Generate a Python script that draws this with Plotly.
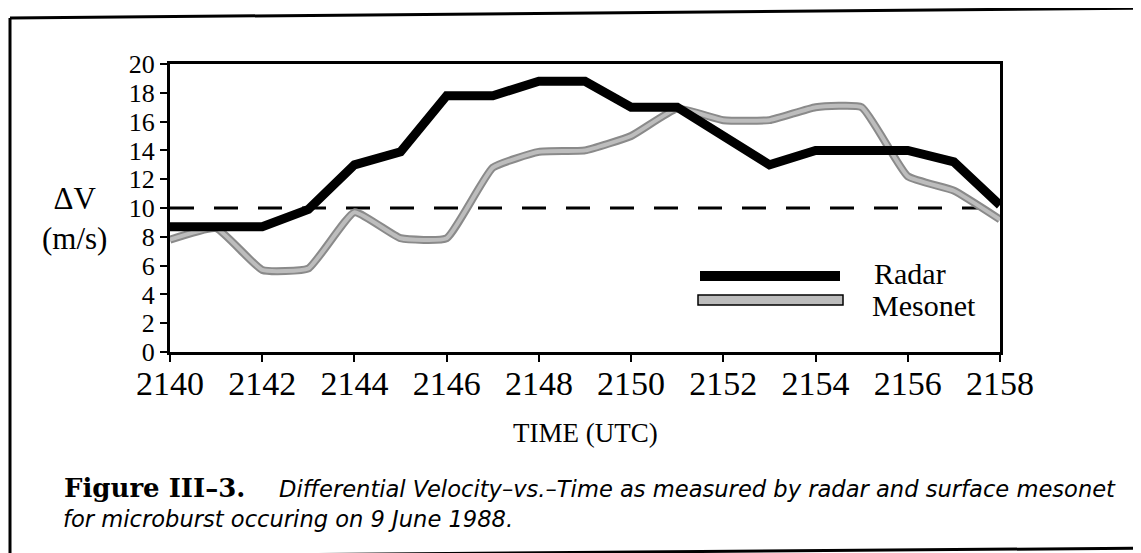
import plotly.graph_objects as go

# ---- data ----
minutes = list(range(2140, 2159))
radar = [8.7, 8.7, 8.7, 9.9, 13.0, 13.9, 17.8, 17.8, 18.8, 18.8, 17.0, 17.0,
         15.0, 13.0, 14.0, 14.0, 14.0, 13.2, 10.2]
mesonet = [7.8, 8.6, 5.7, 5.8, 9.7, 7.9, 7.9, 12.8, 13.9, 14.0, 15.0, 16.9,
           16.1, 16.1, 17.0, 17.0, 12.2, 11.2, 9.2]
threshold = 10
x_ticks = list(range(2140, 2159, 2))
y_ticks = list(range(0, 21, 2))
series_names = ["Radar", "Mesonet"]

W, H = 1141, 553
OFF = 8  # page body margin (figure is drawn 8px in from the window corner)
# plot area in window (screen) pixels
L, R, T, B = 170, 1000, 64, 352


def px(x):
    return (x - L) / (R - L)


def py(y):
    return (B - y) / (B - T)


SERIF = "Liberation Serif"

fig = go.Figure()
fig.add_trace(go.Scatter(x=minutes, y=mesonet, mode="lines", name=series_names[1],
                         line=dict(color="#8a8a8a", width=8, shape="spline", smoothing=0.4),
                         showlegend=False))
fig.add_trace(go.Scatter(x=minutes, y=mesonet, mode="lines", name=series_names[1],
                         line=dict(color="#bdbdbd", width=4, shape="spline", smoothing=0.4),
                         showlegend=False))
fig.add_trace(go.Scatter(x=minutes, y=radar, mode="lines", name=series_names[0],
                         line=dict(color="black", width=9), showlegend=False))

shapes = []
shapes.append(dict(type="line", xref="x", yref="y", x0=minutes[0], x1=minutes[-1],
                   y0=threshold, y1=threshold,
                   line=dict(color="black", width=3, dash="24px,20px"), layer="below"))
# outer frame (open on the right, as in the scan)
frame = dict(color="black", width=3)
fx = OFF + 2
shapes.append(dict(type="line", xref="paper", yref="paper",
                   x0=px(fx), x1=px(1160), y0=py(18), y1=py(8), line=frame))
shapes.append(dict(type="line", xref="paper", yref="paper",
                   x0=px(fx), x1=px(fx), y0=py(18), y1=py(560), line=frame))
shapes.append(dict(type="line", xref="paper", yref="paper",
                   x0=px(fx), x1=px(1160), y0=py(557), y1=py(548), line=frame))
# legend symbols
shapes.append(dict(type="line", xref="paper", yref="paper",
                   x0=px(700), x1=px(840), y0=py(276), y1=py(276),
                   line=dict(color="black", width=10)))
shapes.append(dict(type="rect", xref="paper", yref="paper",
                   x0=px(698), x1=px(843), y0=py(305), y1=py(295),
                   fillcolor="#bcbcbc", line=dict(color="black", width=1.5)))

ann = []
ann.append(dict(text=series_names[0], x=px(872), y=py(273), xref="paper", yref="paper",
                xanchor="left", yanchor="middle", showarrow=False,
                font=dict(family=SERIF, size=30, color="black")))
ann.append(dict(text=series_names[1], x=px(870), y=py(305), xref="paper", yref="paper",
                xanchor="left", yanchor="middle", showarrow=False,
                font=dict(family=SERIF, size=30, color="black")))
ann.append(dict(text="ΔV<br>(m/s)", x=px(74), y=py(218), xref="paper", yref="paper",
                xanchor="center", yanchor="middle", showarrow=False,
                font=dict(family=SERIF, size=31, color="black")))
ann.append(dict(text="TIME (UTC)", x=px(585), y=py(433), xref="paper", yref="paper",
                xanchor="center", yanchor="middle", showarrow=False,
                font=dict(family=SERIF, size=27, color="black")))
ann.append(dict(text="<b>Figure III–3.</b>", x=px(62), y=py(488), xref="paper", yref="paper",
                xanchor="left", yanchor="middle", showarrow=False,
                font=dict(family="DejaVu Serif", size=26, color="black")))
ann.append(dict(text="<i>Differential Velocity–vs.–Time as measured by radar and surface mesonet</i>",
                x=px(277), y=py(489), xref="paper", yref="paper",
                xanchor="left", yanchor="middle", showarrow=False,
                font=dict(family="DejaVu Sans", size=22.6, color="black")))
ann.append(dict(text="<i>for microburst occuring on 9 June 1988.</i>",
                x=px(61), y=py(519), xref="paper", yref="paper",
                xanchor="left", yanchor="middle", showarrow=False,
                font=dict(family="DejaVu Sans", size=22.6, color="black")))

fig.update_layout(
    width=W, height=H,
    margin=dict(l=L - OFF, r=W - (R - OFF), t=T - OFF, b=H - (B - OFF), autoexpand=False),
    paper_bgcolor="white", plot_bgcolor="white",
    shapes=shapes, annotations=ann,
    xaxis=dict(range=[minutes[0], minutes[-1]], tickvals=x_ticks,
               ticktext=[str(v) for v in x_ticks],
               ticks="outside", ticklen=7, tickwidth=2, tickcolor="black",
               ticklabelstandoff=-8,
               showline=True, linewidth=3, linecolor="black", mirror=True,
               showgrid=False, zeroline=False,
               tickfont=dict(family=SERIF, size=34, color="black")),
    yaxis=dict(range=[0, 20], tickvals=y_ticks, ticktext=[str(v) for v in y_ticks],
               ticks="outside", ticklen=7, tickwidth=2, tickcolor="black",
               showline=True, linewidth=3, linecolor="black", mirror=True,
               showgrid=False, zeroline=False,
               tickfont=dict(family=SERIF, size=26, color="black")),
    showlegend=False,
)

fig.write_html("out.html")
